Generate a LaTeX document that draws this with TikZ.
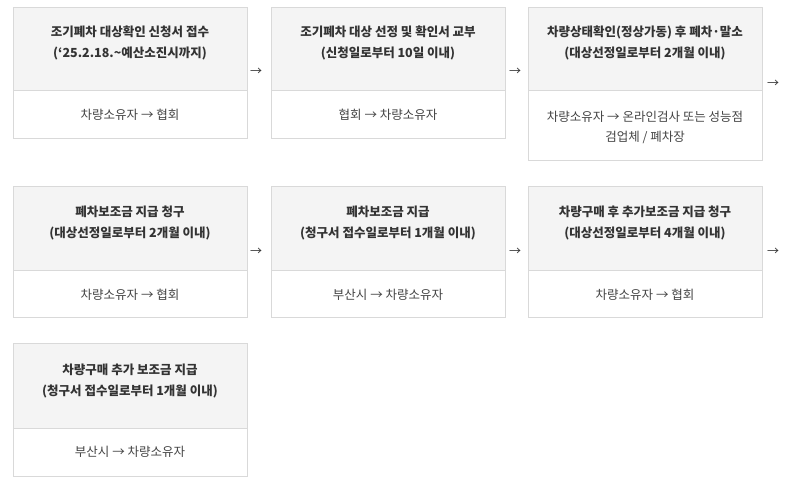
\documentclass[tikz,border=0pt]{standalone}
\usepackage{fontspec}
\setmainfont{Noto Sans CJK KR}
\definecolor{bordergray}{HTML}{D9D9D9}
\definecolor{headfill}{HTML}{F4F4F4}
\definecolor{headtext}{HTML}{333333}
\definecolor{bodytext}{HTML}{444444}
\tikzset{
  headbox/.style={draw=bordergray, line width=1pt, fill=headfill, anchor=north west, minimum width=234pt, inner sep=0pt},
  bodybox/.style={draw=bordergray, line width=1pt, fill=white, anchor=north west, minimum width=234pt, inner sep=0pt},
  headlabel/.style={font=\fontsize{12.5}{21}\selectfont\bfseries, text=headtext, align=center, inner sep=0pt},
  bodylabel/.style={font=\fontsize{12.5}{20}\selectfont, text=bodytext, align=center, inner sep=0pt},
  flowarrow/.style={font=\fontsize{12}{14}\selectfont, text=headtext, inner sep=0pt}
}
\begin{document}
\begin{tikzpicture}[x=1pt,y=-1pt]
\useasboundingbox (0,0) rectangle (800,500);
% row 1
\node[headbox, minimum height=83pt] (h1) at (13,7) {};
\node[bodybox, minimum height=48pt] (b1) at (13,90) {};
\node[headbox, minimum height=83pt] (h2) at (271,7) {};
\node[bodybox, minimum height=48pt] (b2) at (271,90) {};
\node[headbox, minimum height=83pt] (h3) at (528,7) {};
\node[bodybox, minimum height=70pt] (b3) at (528,90) {};
% row 2
\node[headbox, minimum height=84pt] (h4) at (13,186) {};
\node[bodybox, minimum height=47pt] (b4) at (13,270) {};
\node[headbox, minimum height=84pt] (h5) at (271,186) {};
\node[bodybox, minimum height=47pt] (b5) at (271,270) {};
\node[headbox, minimum height=84pt] (h6) at (528,186) {};
\node[bodybox, minimum height=47pt] (b6) at (528,270) {};
% row 3
\node[headbox, minimum height=85pt] (h7) at (13,343) {};
\node[bodybox, minimum height=48pt] (b7) at (13,428) {};
% header texts
\node[headlabel] (t1) at (130,43) {조기폐차 대상확인 신청서 접수\\(‘25.2.18.\textasciitilde 예산소진시까지)};
\node[headlabel] (t2) at (388,43) {조기폐차 대상 선정 및 확인서 교부\\(신청일로부터 10일 이내)};
\node[headlabel] (t3) at (645,43) {차량상태확인(정상가동) 후 폐차·말소\\(대상선정일로부터 2개월 이내)};
\node[headlabel] (t4) at (130,223) {폐차보조금 지급 청구\\(대상선정일로부터 2개월 이내)};
\node[headlabel] (t5) at (388,223) {폐차보조금 지급\\(청구서 접수일로부터 1개월 이내)};
\node[headlabel] (t6) at (645,223) {차량구매 후 추가보조금 지급 청구\\(대상선정일로부터 4개월 이내)};
\node[headlabel] (t7) at (130,381) {차량구매 추가 보조금 지급\\(청구서 접수일로부터 1개월 이내)};
% body texts
\node[bodylabel] (u1) at (130,115) {차량소유자 → 협회};
\node[bodylabel] (u2) at (388,115) {협회 → 차량소유자};
\node[bodylabel] (u3) at (645,127) {차량소유자 → 온라인검사 또는 성능점\\검업체 / 폐차장};
\node[bodylabel] (u4) at (130,295) {차량소유자 → 협회};
\node[bodylabel] (u5) at (388,295) {부산시 → 차량소유자};
\node[bodylabel] (u6) at (645,295) {차량소유자 → 협회};
\node[bodylabel] (u7) at (130,452) {부산시 → 차량소유자};
% flow arrows
\node[flowarrow] (a1) at (256,72) {→};
\node[flowarrow] (a2) at (515,72) {→};
\node[flowarrow] (a3) at (773,84) {→};
\node[flowarrow] (a4) at (256,252) {→};
\node[flowarrow] (a5) at (515,252) {→};
\node[flowarrow] (a6) at (773,252) {→};
\end{tikzpicture}
\end{document}
